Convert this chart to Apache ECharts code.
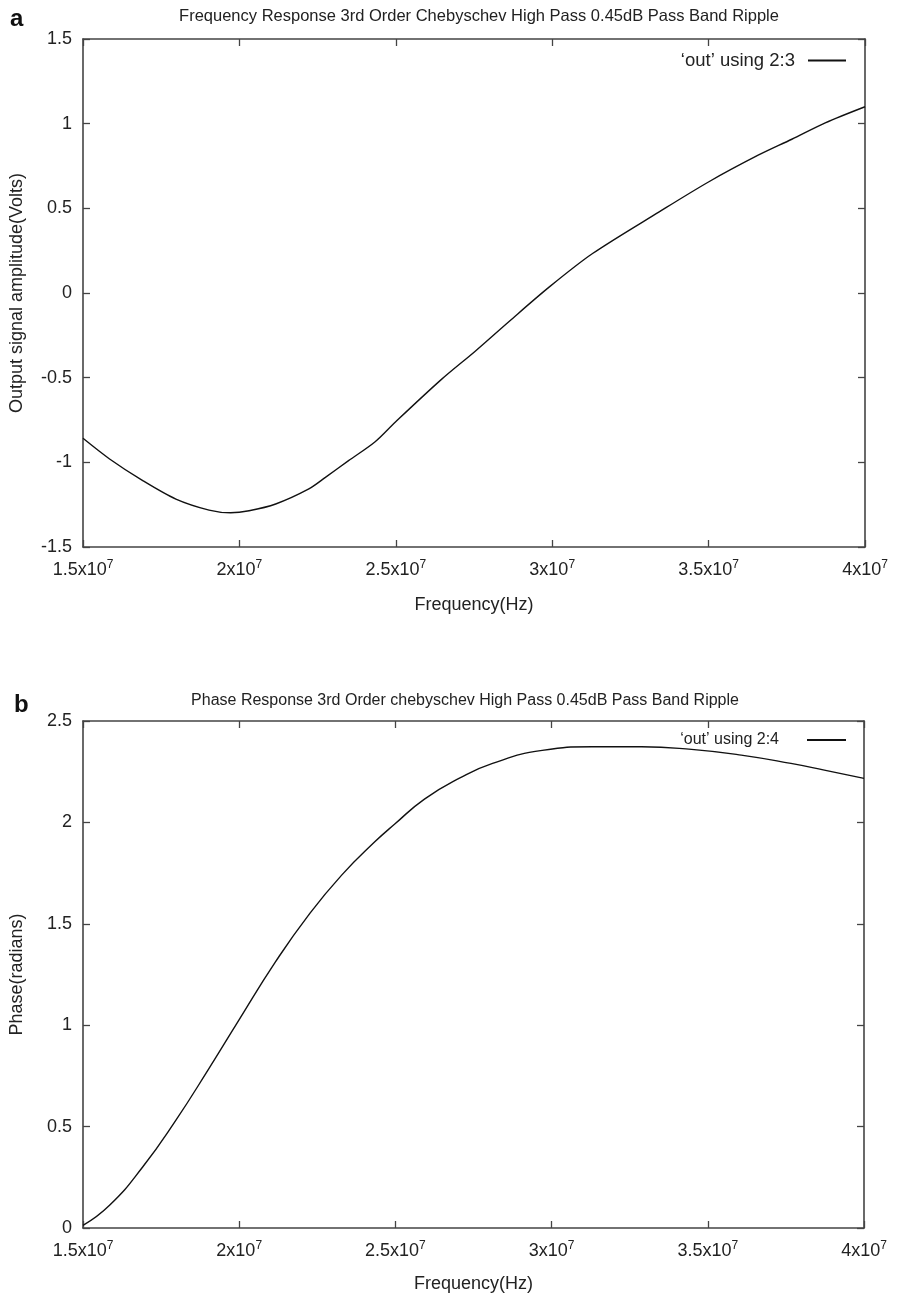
<!DOCTYPE html>
<html>
<head>
<meta charset="utf-8">
<script src="https://cdn.jsdelivr.net/npm/echarts@6/dist/echarts.min.js"></script>
<style>
html,body{margin:0;padding:0;background:#fff;}
#chart{width:900px;height:1296px;}
</style>
</head>
<body>
<div id="chart"></div>
<script>
// Frequency (Hz) and output amplitude (Volts) - panel a
var freqA = [1.5e7, 1.585e7, 1.691e7, 1.797e7, 1.903e7, 1.972e7, 2.031e7, 2.116e7, 2.222e7, 2.275e7, 2.349e7, 2.434e7, 2.498e7, 2.646e7, 2.753e7, 2.864e7, 2.991e7, 3.129e7, 3.342e7, 3.501e7, 3.660e7, 3.766e7, 3.873e7, 4.0e7];
var ampA  = [-0.858, -0.98, -1.108, -1.217, -1.282, -1.298, -1.286, -1.246, -1.157, -1.089, -0.99, -0.878, -0.763, -0.51, -0.345, -0.165, 0.036, 0.233, 0.479, 0.657, 0.815, 0.908, 1.005, 1.10];
// Frequency (Hz) and phase (radians) - panel b
var freqB = [1.5e7, 1.585e7, 1.691e7, 1.797e7, 1.903e7, 1.999e7, 2.116e7, 2.222e7, 2.328e7, 2.434e7, 2.498e7, 2.593e7, 2.705e7, 2.811e7, 2.970e7, 3.129e7, 3.288e7, 3.448e7, 3.607e7, 3.766e7, 3.873e7, 4.0e7];
var phaseB = [0.013, 0.112, 0.301, 0.531, 0.786, 1.025, 1.312, 1.543, 1.740, 1.904, 1.992, 2.115, 2.218, 2.291, 2.355, 2.373, 2.373, 2.360, 2.332, 2.291, 2.258, 2.217];
// Tick labels
var xTickLabels = {15000000: '1.5x10', 20000000: '2x10', 25000000: '2.5x10', 30000000: '3x10', 35000000: '3.5x10', 40000000: '4x10'};
var yTicksA = [-1.5, -1, -0.5, 0, 0.5, 1, 1.5];
var yTicksB = [0, 0.5, 1, 1.5, 2, 2.5];

var titleA = 'Frequency Response 3rd Order Chebyschev High Pass 0.45dB Pass Band Ripple';
var titleB = 'Phase Response 3rd Order chebyschev High Pass 0.45dB Pass Band Ripple';
var nameA = '\u2018out\u2019 using 2:3';
var nameB = '\u2018out\u2019 using 2:4';

var FONT = '"Liberation Sans", Arial, Helvetica, sans-serif';
var AX = '#444';
function zip(a, b){ return a.map(function(v, i){ return [v, b[i]]; }); }

var chart = echarts.init(document.getElementById('chart'));

function xAxes(gi, nameGap){
  return [{
    type: 'value', gridIndex: gi, min: 1.5e7, max: 4e7, interval: 0.5e7,
    name: 'Frequency(Hz)', nameLocation: 'middle', nameGap: nameGap,
    nameTextStyle: {fontFamily: FONT, fontSize: 18, color: '#222'},
    axisLine: {show: true, onZero: false, lineStyle: {color: AX, width: 1.6}},
    axisTick: {show: true, inside: true, length: 7, lineStyle: {color: AX, width: 1.3}},
    splitLine: {show: false},
    axisLabel: {
      margin: 12, fontFamily: FONT, color: '#222',
      formatter: function(v){ return '{a|' + xTickLabels[Math.round(v)] + '}{s|7}'; },
      rich: {
        a: {fontFamily: FONT, fontSize: 18, lineHeight: 22, color: '#222'},
        s: {fontFamily: FONT, fontSize: 12, lineHeight: 12, verticalAlign: 'top', color: '#222'}
      }
    }
  }, {
    type: 'value', gridIndex: gi, position: 'top', min: 1.5e7, max: 4e7, interval: 0.5e7,
    axisLine: {show: true, onZero: false, lineStyle: {color: AX, width: 1.6}},
    axisTick: {show: true, inside: true, length: 7, lineStyle: {color: AX, width: 1.3}},
    axisLabel: {show: false}, splitLine: {show: false}
  }];
}
function yAxes(gi, min, max, name, nameGap){
  return [{
    type: 'value', gridIndex: gi, min: min, max: max, interval: 0.5,
    name: name, nameLocation: 'middle', nameGap: nameGap,
    nameTextStyle: {fontFamily: FONT, fontSize: 18, color: '#222'},
    axisLine: {show: true, onZero: false, lineStyle: {color: AX, width: 1.6}},
    axisTick: {show: true, inside: true, length: 7, lineStyle: {color: AX, width: 1.3}},
    splitLine: {show: false},
    axisLabel: {margin: 11, fontFamily: FONT, fontSize: 18, color: '#222'}
  }, {
    type: 'value', gridIndex: gi, position: 'right', min: min, max: max, interval: 0.5,
    axisLine: {show: true, onZero: false, lineStyle: {color: AX, width: 1.6}},
    axisTick: {show: true, inside: true, length: 7, lineStyle: {color: AX, width: 1.3}},
    axisLabel: {show: false}, splitLine: {show: false}
  }];
}

var option = {
  backgroundColor: '#fff',
  animation: false,
  title: [
    {text: titleA, left: 474, top: 3, textAlign: 'center', textStyle: {fontFamily: FONT, fontSize: 16.5, fontWeight: 'normal', color: '#222'}},
    {text: titleB, left: 460, top: 688, textAlign: 'center', textStyle: {fontFamily: FONT, fontSize: 16, fontWeight: 'normal', color: '#222'}},
    {text: 'a', left: 5, top: 2, textStyle: {fontFamily: FONT, fontSize: 24, fontWeight: 'bold', color: '#111'}},
    {text: 'b', left: 9, top: 688, textStyle: {fontFamily: FONT, fontSize: 24, fontWeight: 'bold', color: '#111'}}
  ],
  legend: [
    {data: [nameA], right: 49, top: 46, align: 'right', itemWidth: 38, itemHeight: 2, icon: 'rect',
     textStyle: {fontFamily: FONT, fontSize: 18.5, color: '#222', padding: [0, 8, 0, 0]}},
    {data: [nameB], right: 49, top: 727, align: 'right', itemWidth: 39, itemHeight: 2, icon: 'rect',
     textStyle: {fontFamily: FONT, fontSize: 16, color: '#222', padding: [0, 23, 0, 0]}}
  ],
  grid: [
    {left: 81, right: 35, top: 39, height: 508},
    {left: 81, right: 36, top: 721, height: 507}
  ],
  xAxis: xAxes(0, 49).concat(xAxes(1, 47)),
  yAxis: yAxes(0, -1.5, 1.5, 'Output signal amplitude(Volts)', 57).concat(yAxes(1, 0, 2.5, 'Phase(radians)', 57)),
  series: [
    {name: nameA, type: 'line', xAxisIndex: 0, yAxisIndex: 0, data: zip(freqA, ampA), smooth: 0.3, symbol: 'none',
     lineStyle: {color: '#111', width: 1.4}, itemStyle: {color: '#111'}},
    {name: nameB, type: 'line', xAxisIndex: 2, yAxisIndex: 2, data: zip(freqB, phaseB), smooth: 0.5, symbol: 'none',
     lineStyle: {color: '#111', width: 1.4}, itemStyle: {color: '#111'}}
  ]
};
chart.setOption(option);
</script>
</body>
</html>
